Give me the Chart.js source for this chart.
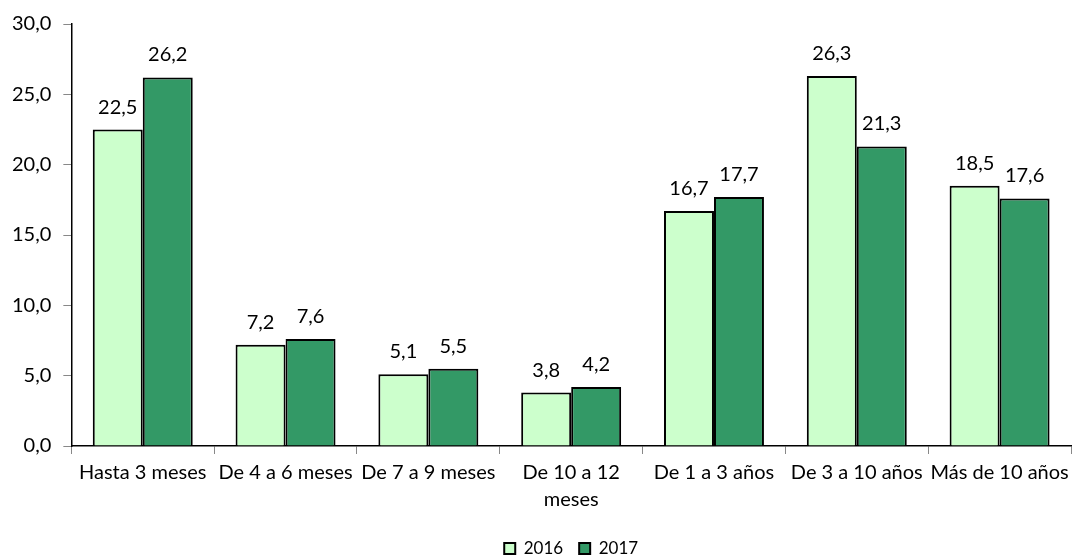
<!DOCTYPE html>
<html><head><meta charset="utf-8">
<script src="https://cdn.jsdelivr.net/npm/chart.js@4/dist/chart.umd.min.js"></script>
<style>html,body{margin:0;padding:0;background:#fff}#wrap{width:1074px;height:556px}</style>
</head><body><div id="wrap"><canvas id="c" width="1074" height="556"></canvas></div>
<script>
const categories = ['Hasta 3 meses','De 4 a 6 meses','De 7 a 9 meses',['De 10 a 12','meses'],'De 1 a 3 años','De 3 a 10 años','Más de 10 años'];
const values2016 = [22.5, 7.2, 5.1, 3.8, 16.7, 26.3, 18.5];
const values2017 = [26.2, 7.6, 5.5, 4.2, 17.7, 21.3, 17.6];
const seriesNames = ['2016','2017'];
const yTicks = [0, 5, 10, 15, 20, 25, 30];
const fmt = v => v.toFixed(1).replace('.', ',');
const FONT = 'Lato, "Open Sans", sans-serif';

const labelPlugin = {
  id: 'barLabels',
  afterDatasetsDraw(chart) {
    const ctx = chart.ctx;
    ctx.save();
    ctx.font = '20px ' + FONT;
    ctx.fillStyle = '#000';
    ctx.textAlign = 'center';
    ctx.textBaseline = 'alphabetic';
    chart.data.datasets.forEach((ds, i) => {
      chart.getDatasetMeta(i).data.forEach((bar, j) => {
        ctx.fillText(fmt(ds.data[j]), bar.x, bar.y - 16);
      });
    });
    ctx.restore();
  }
};

new Chart(document.getElementById('c'), {
  type: 'bar',
  data: {
    labels: categories,
    datasets: [
      {label: seriesNames[0], data: values2016, backgroundColor: '#ccffcc', borderColor: '#000', borderWidth: 2, categoryPercentage: 0.7, barPercentage: 1},
      {label: seriesNames[1], data: values2017, backgroundColor: '#339966', borderColor: '#000', borderWidth: 2, categoryPercentage: 0.7, barPercentage: 1}
    ]
  },
  options: {
    responsive: false,
    animation: false,
    devicePixelRatio: 1,
    layout: {padding: {left: 0, right: 3, top: 20, bottom: -11}},
    plugins: {
      legend: {
        position: 'bottom',
        fullSize: false,
        labels: {font: {size: 17, family: FONT}, color: '#000', boxWidth: 11, boxHeight: 11, padding: 16}
      },
      tooltip: {enabled: false}
    },
    scales: {
      x: {
        afterFit: s => { s.height += 6; },
        grid: {display: true, drawOnChartArea: false, drawTicks: true, tickLength: 8, offset: true, color: '#888'},
        border: {color: '#000', width: 1.5},
        ticks: {font: {size: 20, family: FONT, lineHeight: 1.35}, color: '#000', padding: 5, maxRotation: 0, autoSkip: false}
      },
      y: {
        min: 0, max: 30,
        afterBuildTicks: s => { s.ticks = yTicks.map(v => ({value: v})); },
        grid: {display: true, drawOnChartArea: false, drawTicks: true, tickLength: 8, color: '#888'},
        border: {color: '#000', width: 1.5},
        ticks: {font: {size: 20, family: FONT}, color: '#000', padding: 12, callback: v => fmt(v)}
      }
    }
  },
  plugins: [labelPlugin]
});
</script></body></html>
